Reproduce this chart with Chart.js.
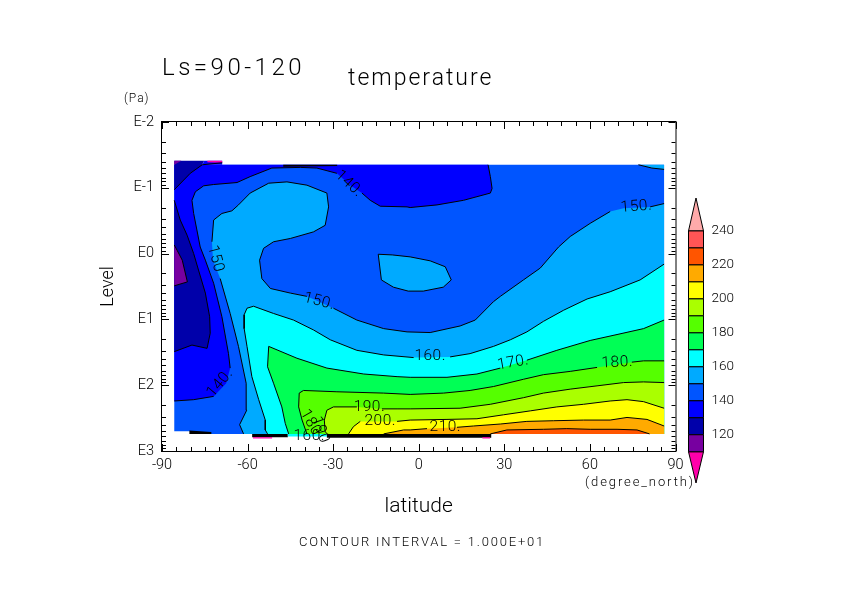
<!DOCTYPE html>
<html>
<head>
<meta charset="utf-8">
<title>temperature</title>
<script src="https://cdn.jsdelivr.net/npm/chart.js@4/dist/chart.umd.min.js"></script>
<style>
  html, body { margin: 0; padding: 0; background: #fff; }
  #wrap { position: relative; width: 842px; height: 595px; }
  canvas { position: absolute; display: block; }
  #main { left: 0; top: 0; }
  #bar { left: 680px; top: 0; }
</style>
</head>
<body>
<div id="wrap">
  <canvas id="main" width="842" height="595"></canvas>
  <canvas id="bar" width="80" height="595"></canvas>
</div>
<script>
/* ── Axis ticks ── */
var latTicks = [-90, -60, -30, 0, 30, 60, 90];
var latLabels = ['-90', '-60', '-30', '0', '30', '60', '90'];
var latMinor = [-85, -80, -75, -70, -65, -55, -50, -45, -40, -35, -25, -20, -15, -10, -5,
  5, 10, 15, 20, 25, 35, 40, 45, 50, 55, 65, 70, 75, 80, 85];
var levelTicks = [-2, -1, 0, 1, 2, 3];
var levelLabels = ['E-2', 'E-1', 'E0', 'E1', 'E2', 'E3'];
var levelMinorOffsets = [0.301, 0.477, 0.602, 0.699, 0.778, 0.845, 0.903, 0.954];

/* ── Colour key ── */
var keyLevels = [110, 120, 130, 140, 150, 160, 170, 180, 190, 200, 210, 220, 230, 240];
var keyColors = ['#7700a0', '#0000aa', '#0000ff', '#0055ff', '#00aaff', '#00ffff', '#00ff55',
  '#55ff00', '#aaff00', '#ffff00', '#ffaa00', '#ff5500', '#ff5555'];
var keyTicks = [120, 140, 160, 180, 200, 220, 240];
var keyLow = 91.6;
var keyHigh = 259.4;

/* ── Contours as [latitude, log10 pressure]; null = gap in the line for a label ── */
var edgeBase = [[-85.7, -1.35], [86, -1.35], [86, 2.74], [-80.1, 2.74], [-80.1, 2.70], [-85.7, 2.70]];

var contour140 = [[24.3, -1.35], [25.1, -1.17], [25.7, -0.99], [25.1, -0.92], [15.7, -0.81], [6.4, -0.74],
  [-3, -0.70], [-4.1, -0.71], [-13.5, -0.72], [-17, -0.81], [-19.9, -0.92], null, [-24, -1.04], null,
  [-28.7, -1.22], [-35.7, -1.30], [-41.5, -1.31], [-51.5, -1.30], [-59.1, -1.17], [-63.7, -1.08],
  [-71.9, -1.05], [-75.4, -1.03], [-78.3, -0.94], [-79.5, -0.81], [-78.9, -0.61], [-76.6, -0.10],
  [-74.8, 0.10], [-71.9, 0.45], [-69, 0.96], [-66.7, 1.52], [-66.1, 1.74], null, [-67.5, 1.97], null,
  [-71.9, 2.17], [-78.9, 2.22], [-85.7, 2.24]];
var close140 = [[-85.7, -1.35]];

var contour130Low = [[-85.7, -0.81], [-83.6, -0.51], [-81.2, -0.28], [-78.9, 0], [-77.2, 0.25], [-74.8, 0.60],
  [-73.3, 0.96], [-73.1, 1.21], [-74.2, 1.44], [-79.5, 1.39], [-85.7, 1.49]];

var contour130Top = [[-85.7, -0.97], [-80.1, -1.22], [-75.9, -1.35]];
var close130Top = [[-75.2, -1.41], [-85.7, -1.41]];

var contour120Low = [[-85.7, -0.13], [-84.7, -0.05], [-82.9, 0.10], [-81.1, 0.43], [-85.7, 0.49]];
var cornerPurple = [[-85.7, -1.41], [-83.2, -1.41], [-85.7, -1.35]];
var topStripBlue = [[-75.2, -1.41], [-68.9, -1.41], [-68.9, -1.35], [-75.9, -1.35]];
var topStripLine = [[-75.9, -1.35], [-68.9, -1.38]];
var topStripPink = [[-74.1, -1.41], [-68.9, -1.41], [-68.9, -1.38], [-74.1, -1.39]];
var topDarkLine = [[-47.5, -1.35], [-28.6, -1.35], [-28.6, -1.33], [-47.5, -1.32]];

var contour150 = [[-61.4, 2.74], [-62.8, 2.60], [-60.3, 2.38], [-60.5, 1.97], [-63.2, 1.41], [-66.1, 0.91],
  [-69.6, 0.38], null, [-72.1, 0.10], null, [-72.5, -0.18], [-71.9, -0.51], [-69, -0.61], [-65.5, -0.65],
  [-63.2, -0.74], [-59.1, -0.92], [-52.6, -1.07], [-46.2, -1.09], [-39.2, -1.04], [-32.2, -0.92],
  [-31.6, -0.71], [-32.8, -0.43], [-36.9, -0.33], [-45, -0.23], [-50.9, -0.18], [-54.4, -0.08],
  [-55.8, 0.10], [-55, 0.38], [-52, 0.53], [-45, 0.60], [-39.2, 0.65], null, [-29.9, 0.83], [-21.7, 1.01],
  [-12.3, 1.14], [-4.1, 1.19], [4, 1.20], [14.5, 1.10], [19.8, 1.01], [26.2, 0.73], [28.6, 0.65],
  [36.7, 0.40], [42.6, 0.22], [49, -0.10], [53.1, -0.26], [60.1, -0.46], [67.1, -0.64], null,
  [71.8, -0.69], null, [81.1, -0.71], [86, -0.76]];
var contour150Island = [[-14.2, 0.01], [-13.1, 0.40], [-8.9, 0.51], [-3.7, 0.57], [1.6, 0.57], [8.6, 0.51],
  [11.4, 0.40], [9.3, 0.20], [4, 0.11], [-3, 0.05], [-9.3, 0.02], [-14.2, 0.01]];
var contour150Corner = [[77, -1.35], [81.7, -1.30], [86, -1.28]];
var closeCorner = [[86, -1.35]];

var contour160 = [[86, 0.16], [77.6, 0.40], [67.1, 0.58], [59, 0.69], [50.8, 0.86], [43.7, 1.03], [37.9, 1.19],
  [32.1, 1.31], [26.2, 1.41], [18, 1.52], [11, 1.57], null, [-1.8, 1.58], [-12.3, 1.54], [-21.7, 1.47],
  [-31, 1.31], [-36.9, 1.16], [-43.9, 1.01], [-50.9, 0.91], [-57.9, 0.80], [-60.2, 0.83], [-61.2, 0.93],
  [-61.2, 1.14], [-60.2, 1.41], [-58.5, 1.87], [-56.1, 2.22], [-53.8, 2.53], [-53.8, 2.68], [-53, 2.74]];

var contour170 = [[86, 1.01], [78.8, 1.14], [69.5, 1.23], [60.1, 1.32], [48.4, 1.47], [37.9, 1.62], null,
  [28.6, 1.74], [20.4, 1.83], [9.9, 1.88], [-3, 1.88], [-7.6, 1.87], [-19.3, 1.83], [-32.2, 1.74],
  [-42.7, 1.59], [-52.6, 1.41], [-53, 1.72], [-50.9, 1.97], [-48, 2.33], [-46.8, 2.58], [-45.6, 2.74]];

var contour180 = [[86, 1.63], [78.8, 1.63], [74.7, 1.65], null, [62.5, 1.73], [53.1, 1.79], [43.7, 1.84],
  [36.7, 1.91], [26.2, 2.02], [18, 2.08], [8.7, 2.12], [-3, 2.14], [-12.3, 2.12], [-28.7, 2.10], [-40.4, 2.08],
  [-41.9, 2.12], [-42.1, 2.33], [-40.9, 2.53], [-39.2, 2.74]];

var contour190 = [[86, 1.96], [78.8, 1.95], [71.8, 1.96], [62.5, 2.01], [53.1, 2.06], [43.7, 2.12], [36.7, 2.19],
  [25.1, 2.29], [14.5, 2.35], [-3, 2.36], [-7.6, 2.36], [-12.9, 2.36], null, [-21.7, 2.33], [-29.9, 2.33],
  [-32.2, 2.38], [-33.1, 2.53], [-32.8, 2.71], [-32, 2.74]];

var contour200 = [[86, 2.35], [78.8, 2.25], [73, 2.22], [67.1, 2.24], [57.8, 2.29], [48.4, 2.33], [39.1, 2.39],
  [29.7, 2.45], [20.4, 2.51], [9.9, 2.52], [-3, 2.53], [-7.6, 2.55], null, [-20.5, 2.55], [-22.9, 2.63], [-24.6, 2.74]];

var contour210 = [[86, 2.62], [80, 2.52], [73, 2.49], [67.1, 2.53], [57.8, 2.53], [47.3, 2.54], [37.9, 2.55],
  [28.6, 2.59], [19.2, 2.62], [13.4, 2.64], null, [2.9, 2.66], [-3, 2.68], [-5.3, 2.68], [-12.3, 2.74]];

var contour220 = [[25.1, 2.74], [30.9, 2.68], [43.7, 2.67], [51.9, 2.66], [60.1, 2.67], [69.5, 2.67], [76.5, 2.68], [80.9, 2.74]];

var closeBottomRight = [[86, 2.74]];

/* Packed contours along the lowest level */
var stripBlackLeft = [[-80.4, 2.69], [-72.7, 2.71], [-72.7, 2.74], [-80.4, 2.74]];
var stripBlackA = [[-58.4, 2.74], [-45.9, 2.74], [-45.9, 2.79], [-58.4, 2.79]];
var stripCyan = [[-45.9, 2.74], [-32.2, 2.74], [-32.2, 2.78], [-45.9, 2.78]];
var stripBlackB = [[-32.2, 2.74], [25.4, 2.74], [25.4, 2.80], [-32.2, 2.80]];
var stripPinkA = [[-58.1, 2.79], [-51.4, 2.79], [-51.4, 2.81], [-58.1, 2.81]];
var stripPinkB = [[22.3, 2.79], [25, 2.79], [25, 2.81], [22.3, 2.81]];

/* Labels on the contours */
var contourLabelText = ['140.', '150.', '150', '150.', '160.', '170.', '180.', '190.', '200.', '210.', '140.', '180', '190', '160.'];
var contourLabelLat = [-24.5, 76.3, -71.3, -34.9, 4, 33.1, 69.6, -17.3, -13.5, 9.3, -69.6, -38, -34.6, -38.4];
var contourLabelLevel = [-1.06, -0.71, 0.08, 0.73, 1.56, 1.66, 1.66, 2.33, 2.54, 2.63, 1.97, 2.57, 2.68, 2.78];
var contourLabelAngle = [43, -5, 75, 14, 0, -10, -3, 0, 0, 0, -50, 60, 70, 0];

var FONT = 'Roboto, "Liberation Sans", sans-serif';
var THIN = '300';

/* ── Datasets: each band is a filled shape, its contour a line on top ── */
var datasets = [];

function addFill(color, pairs, extra) {
  var pts = pairs.filter(Boolean).concat(extra || []);
  datasets.push({
    bandColor: color,
    data: pts.map(function (p) { return { x: p[0], y: p[1] }; }),
    showLine: false,
    pointRadius: 0,
    order: -datasets.length,
  });
}

function addLine(pairs) {
  datasets.push({
    data: pairs.map(function (p) { return p ? { x: p[0], y: p[1] } : { x: null, y: null }; }),
    showLine: true,
    spanGaps: false,
    borderColor: '#000',
    borderWidth: 1,
    pointRadius: 0,
    tension: 0,
    order: -datasets.length,
  });
}

function addBand(color, contour, extra) {
  addFill(color, contour, extra);
  addLine(contour);
}

addFill('#0055ff', edgeBase);
addBand('#0000ff', contour140, close140);
addBand('#0000aa', contour130Low);
addBand('#0000aa', contour130Top, close130Top);
addBand('#7700a0', contour120Low);
addFill('#7700a0', cornerPurple);
addFill('#0000ff', topStripBlue);
addFill('#ff00aa', topStripPink);
addLine(topStripLine);
addFill('#000000', topDarkLine);
addBand('#00aaff', contour150, closeBottomRight);
addBand('#00aaff', contour150Island);
addBand('#00aaff', contour150Corner, closeCorner);
addBand('#00ffff', contour160, closeBottomRight);
addBand('#00ff55', contour170, closeBottomRight);
addBand('#55ff00', contour180, closeBottomRight);
addBand('#aaff00', contour190, closeBottomRight);
addBand('#ffff00', contour200, closeBottomRight);
addBand('#ffaa00', contour210, closeBottomRight);
addBand('#ff5500', contour220);
addFill('#000000', stripBlackLeft);
addFill('#000000', stripBlackA);
addFill('#00ffff', stripCyan);
addFill('#000000', stripBlackB);
addFill('#ff00aa', stripPinkA);
addFill('#ff00aa', stripPinkB);

/* Fills the closed shape of a dataset through its scaled points */
var bandFillPlugin = {
  id: 'bandFill',
  beforeDatasetDraw: function (chart, args) {
    var ds = chart.data.datasets[args.index];
    if (!ds.bandColor) return;
    var pts = args.meta.data;
    var ctx = chart.ctx;
    ctx.save();
    ctx.beginPath();
    pts.forEach(function (p, i) {
      if (i === 0) ctx.moveTo(p.x, p.y);
      else ctx.lineTo(p.x, p.y);
    });
    ctx.closePath();
    ctx.fillStyle = ds.bandColor;
    ctx.fill();
    if (ds.bandStroke) {
      ctx.strokeStyle = '#000';
      ctx.lineWidth = 1;
      ctx.stroke();
    }
    ctx.restore();
  },
};

/* Frame with inward ticks on all four sides, contour labels and page texts */
var framePlugin = {
  id: 'frame',
  afterDatasetsDraw: function (chart) {
    var ctx = chart.ctx;
    var a = chart.chartArea;
    var sx = chart.scales.x;
    var sy = chart.scales.y;

    ctx.save();
    ctx.fillStyle = '#000';
    ctx.font = THIN + ' 15.5px ' + FONT;
    ctx.textAlign = 'center';
    ctx.textBaseline = 'middle';
    ctx.letterSpacing = '0.5px';
    contourLabelText.forEach(function (t, i) {
      ctx.save();
      ctx.translate(sx.getPixelForValue(contourLabelLat[i]), sy.getPixelForValue(contourLabelLevel[i]));
      ctx.rotate(contourLabelAngle[i] * Math.PI / 180);
      ctx.fillText(t, 0, 0);
      ctx.restore();
    });
    ctx.restore();

    ctx.save();
    ctx.strokeStyle = '#000';
    ctx.lineWidth = 1;
    ctx.strokeRect(a.left - 0.5, a.top - 0.5, a.right - a.left + 1, a.bottom - a.top + 1);

    function tickX(lat, len) {
      var x = Math.round(sx.getPixelForValue(lat)) + 0.5;
      ctx.moveTo(x, a.top); ctx.lineTo(x, a.top + len);
      ctx.moveTo(x, a.bottom); ctx.lineTo(x, a.bottom - len);
    }
    function tickY(level, len) {
      var y = Math.round(sy.getPixelForValue(level)) + 0.5;
      ctx.moveTo(a.left, y); ctx.lineTo(a.left + len, y);
      ctx.moveTo(a.right, y); ctx.lineTo(a.right - len, y);
    }
    ctx.beginPath();
    latTicks.forEach(function (v) { tickX(v, 7); });
    latMinor.forEach(function (v) { tickX(v, 4); });
    levelTicks.forEach(function (v) { tickY(v, 7); });
    levelTicks.slice(0, -1).forEach(function (v) {
      levelMinorOffsets.forEach(function (o) { tickY(v + o, 4); });
    });
    ctx.stroke();
    ctx.restore();

    ctx.save();
    ctx.fillStyle = '#000';
    ctx.textBaseline = 'middle';
    function put(text, x, y, size, spacing) {
      ctx.font = THIN + ' ' + size + 'px ' + FONT;
      ctx.textAlign = 'left';
      ctx.letterSpacing = spacing;
      ctx.fillText(text, x, y);
    }
    put('Ls=90-120', 162, 69, 24, '3.5px');
    put('temperature', 348, 79, 23, '2px');
    put('(Pa)', 124, 99, 12, '1px');
    put('(degree_north)', 585, 483, 13, '1.9px');
    put('CONTOUR INTERVAL = 1.000E+01', 299, 543, 13, '1.8px');
    ctx.restore();
  },
};

/* ── Main chart ── */
new Chart(document.getElementById('main').getContext('2d'), {
  type: 'scatter',
  data: { datasets: datasets },
  plugins: [bandFillPlugin, framePlugin],
  options: {
    responsive: false,
    animation: false,
    devicePixelRatio: 1,
    layout: { padding: { left: 0, top: 122, right: 166.5, bottom: 0 } },
    plugins: { legend: { display: false }, tooltip: { enabled: false } },
    scales: {
      x: {
        type: 'linear',
        min: -90,
        max: 90,
        afterFit: function (s) { s.height = 144; },
        afterBuildTicks: function (s) {
          s.ticks = latTicks.map(function (v) { return { value: v }; });
        },
        grid: { display: false, drawTicks: false },
        border: { display: false },
        ticks: {
          padding: 6,
          maxRotation: 0,
          autoSkip: false,
          color: '#000',
          font: { family: FONT, size: 14.5, weight: THIN },
          callback: function (v) { return latLabels[latTicks.indexOf(v)]; },
        },
        title: {
          display: true,
          text: 'latitude',
          color: '#000',
          font: { family: FONT, size: 21, weight: THIN },
          padding: { top: 0, bottom: 76 },
        },
      },
      y: {
        type: 'linear',
        min: -2,
        max: 3,
        reverse: true,
        afterFit: function (s) { s.width = 162; },
        afterBuildTicks: function (s) {
          s.ticks = levelTicks.map(function (v) { return { value: v }; });
        },
        grid: { display: false, drawTicks: false },
        border: { display: false },
        ticks: {
          padding: 8,
          autoSkip: false,
          color: '#000',
          font: { family: FONT, size: 14.5, weight: THIN },
          callback: function (v) { return levelLabels[levelTicks.indexOf(v)]; },
        },
        title: {
          display: true,
          text: 'Level',
          color: '#000',
          font: { family: FONT, size: 18, weight: THIN },
          padding: { top: 98, bottom: 0 },
        },
      },
    },
  },
});

/* ── Colour key ── */
var keySets = [];
keyColors.forEach(function (c, i) {
  var lo = keyLevels[i];
  var hi = keyLevels[i + 1];
  keySets.push({
    bandColor: c,
    bandStroke: true,
    data: [{ x: 0, y: lo }, { x: 1, y: lo }, { x: 1, y: hi }, { x: 0, y: hi }],
    showLine: false,
    pointRadius: 0,
  });
});
keySets.push({
  bandColor: '#ffaaaa',
  bandStroke: true,
  data: [{ x: 0, y: keyLevels[keyLevels.length - 1] }, { x: 0.5, y: keyHigh }, { x: 1, y: keyLevels[keyLevels.length - 1] }],
  showLine: false,
  pointRadius: 0,
});
keySets.push({
  bandColor: '#ff00aa',
  bandStroke: true,
  data: [{ x: 0, y: keyLevels[0] }, { x: 0.5, y: keyLow }, { x: 1, y: keyLevels[0] }],
  showLine: false,
  pointRadius: 0,
});

new Chart(document.getElementById('bar').getContext('2d'), {
  type: 'scatter',
  data: { datasets: keySets },
  plugins: [bandFillPlugin],
  options: {
    responsive: false,
    animation: false,
    devicePixelRatio: 1,
    layout: { padding: { left: 8.5, top: 198, right: 0, bottom: 112 } },
    plugins: { legend: { display: false }, tooltip: { enabled: false } },
    scales: {
      x: { type: 'linear', min: 0, max: 1, display: false },
      y: {
        type: 'linear',
        position: 'right',
        min: keyLow,
        max: keyHigh,
        afterFit: function (s) { s.width = 56.5; },
        afterBuildTicks: function (s) {
          s.ticks = keyTicks.map(function (v) { return { value: v }; });
        },
        grid: { display: false, drawTicks: false },
        border: { display: false },
        ticks: {
          padding: 8,
          autoSkip: false,
          color: '#000',
          font: { family: FONT, size: 13.5, weight: THIN },
        },
      },
    },
  },
});
</script>
</body>
</html>
